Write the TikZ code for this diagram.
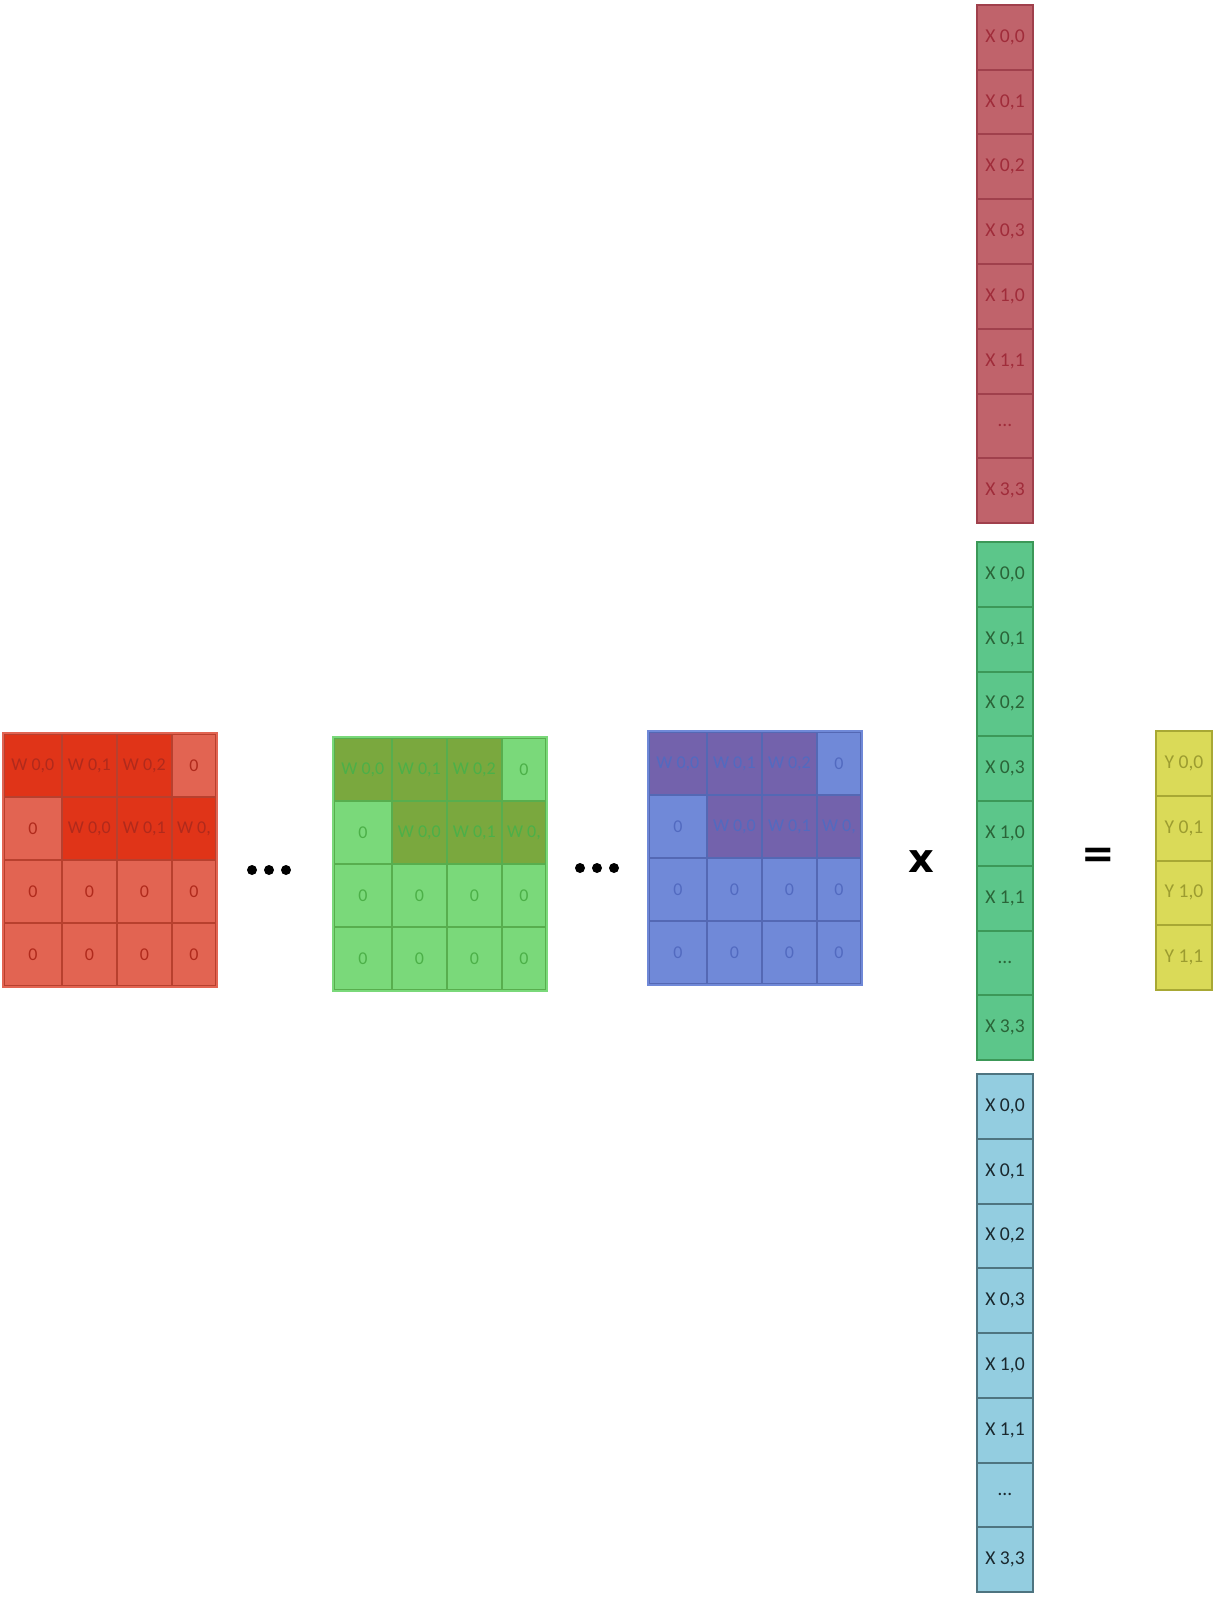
\documentclass[tikz,border=0pt]{standalone}
\usepackage{fontspec}
\setmainfont{Carlito}
\newfontfamily\opfont{DejaVu Sans}
\usetikzlibrary{positioning}

% kernel matrices
\definecolor{redlight}{HTML}{E26452}
\definecolor{reddark}{HTML}{E03418}
\definecolor{redline}{HTML}{B8402E}
\definecolor{redtext}{HTML}{B02A1C}
\definecolor{greenlight}{HTML}{7AD97A}
\definecolor{greendark}{HTML}{7AA83E}
\definecolor{greenline}{HTML}{58AE4E}
\definecolor{greentext}{HTML}{4CB048}
\definecolor{bluelight}{HTML}{7089D8}
\definecolor{bluedark}{HTML}{7362AC}
\definecolor{blueline}{HTML}{5468B4}
\definecolor{bluetext}{HTML}{526AC0}
% input columns and output
\definecolor{xred}{HTML}{C0636B}
\definecolor{xredline}{HTML}{A0404C}
\definecolor{xredtext}{HTML}{A02C3A}
\definecolor{xgreen}{HTML}{5CC68A}
\definecolor{xgreenline}{HTML}{3C9858}
\definecolor{xgreentext}{HTML}{2A6438}
\definecolor{xblue}{HTML}{93CDE0}
\definecolor{xblueline}{HTML}{4E7480}
\definecolor{xbluetext}{HTML}{1A282E}
\definecolor{yout}{HTML}{DADA58}
\definecolor{youtline}{HTML}{A8A834}
\definecolor{youttext}{HTML}{9C9C30}

\tikzset{
  wcell/.style={draw,line width=0.9pt,anchor=north west,inner sep=0pt,
    minimum height=31.5pt,font=\fontsize{9}{10}\selectfont},
  xcell/.style={draw,line width=1pt,anchor=north west,inner sep=0pt,
    minimum width=28pt,minimum height=32.375pt,font=\fontsize{9.8}{11}\selectfont},
  opsign/.style={font=\opfont\bfseries\fontsize{20}{24}\selectfont,inner sep=0pt}
}

\begin{document}
\begin{tikzpicture}[x=0.5pt,y=-0.5pt]
  \useasboundingbox (0,0) rectangle (1218,1600);
  % three padded kernel matrices
  \foreach \m/\xo/\yo/\cl/\cd/\cb/\ct in {red/3/733/redlight/reddark/redline/redtext,
      green/333/737/greenlight/greendark/greenline/greentext,
      blue/648/731/bluelight/bluedark/blueline/bluetext} {
    \begin{scope}[shift={(\xo,\yo)}]
      \foreach \j/\i/\xa/\w/\k/\t in {0/0/0/29/\cd/{W 0,0},0/1/58/27.5/\cd/{W 0,1},
          0/2/113/27.5/\cd/{W 0,2},0/3/168/22/\cl/0,
          1/0/0/29/\cl/0,1/1/58/27.5/\cd/{W 0,0},
          1/2/113/27.5/\cd/{W 0,1},1/3/168/22/\cd/{W 0,}} {
        \node[wcell,fill=\k,draw=\cb,text=\ct,minimum width=\w pt]
          (\m-\j-\i) at (\xa,{\j*63}) {\t};
      }
      \foreach \j in {2,3} {
        \foreach \i/\xa/\w in {0/0/29,1/58/27.5,2/113/27.5,3/168/22} {
          \node[wcell,fill=\cl,draw=\cb,text=\ct,minimum width=\w pt]
            (\m-\j-\i) at (\xa,{\j*63}) {0};
        }
      }
      % soft outer edge
      \draw[\cl,line width=1pt] (\m-0-0.north west) rectangle (\m-3-3.south east);
    \end{scope}
  }
  % dots between the matrices
  \foreach \x in {252,269,286} \fill (\x,870) circle (5);
  \foreach \x in {580,597,614} \fill (\x,868) circle (5);
  % stacked input vector
  \foreach \c/\cb/\ct/\yo in {xred/xredline/xredtext/4,xgreen/xgreenline/xgreentext/541,
      xblue/xblueline/xbluetext/1073} {
    \foreach \t [count=\k] in {{X 0,0},{X 0,1},{X 0,2},{X 0,3},{X 1,0},{X 1,1},{\ldots},{X 3,3}} {
      \node[xcell,fill=\c,draw=\cb,text=\ct] (\c-\k)
        at (976,{\yo+(\k-1)*64.75}) {\t};
    }
  }
  % output
  \foreach \t [count=\k] in {{Y 0,0},{Y 0,1},{Y 1,0},{Y 1,1}} {
    \node[xcell,fill=yout,draw=youtline,text=youttext] (y-\k)
      at (1155,{730+(\k-1)*64.75}) {\t};
  }
  \node[opsign] (times) at (921,862) {x};
  \node[opsign] (equals) at (1098,858) {=};
\end{tikzpicture}
\end{document}
